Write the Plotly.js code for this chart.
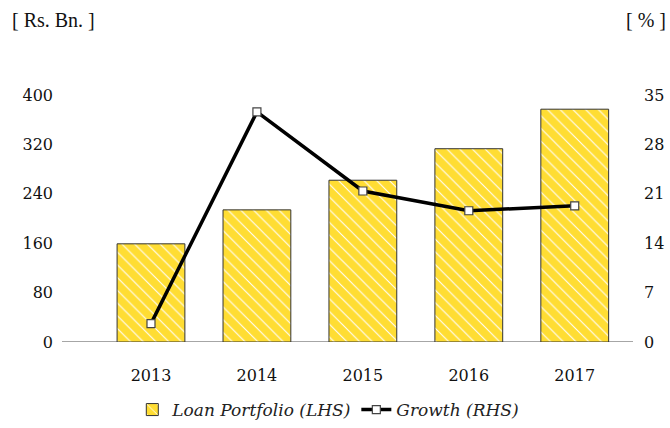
<!DOCTYPE html>
<html>
<head>
<meta charset="utf-8">
<script src="https://cdn.plot.ly/plotly-3.0.1.min.js"></script>
<style>html,body{margin:0;padding:0;background:#fff;}#chart{width:670px;height:428px;}</style>
</head>
<body>
<div id="chart"></div>
<script>
const years = ['2013', '2014', '2015', '2016', '2017'];
const loanPortfolio = [159, 214, 262, 313, 377];
const growth = [2.6, 32.6, 21.4, 18.6, 19.3];
const leftTicks = [0, 80, 160, 240, 320, 400];
const rightTicks = [0, 7, 14, 21, 28, 35];

const tickFont = {family: 'DejaVu Serif', size: 16, color: '#111'};

const traces = [
  {
    type: 'bar', x: years, y: loanPortfolio, name: 'Loan Portfolio (LHS)',
    width: 0.64,
    marker: {
      color: '#FFDD33',
      line: {color: '#333', width: 1},
      pattern: {shape: '\\', fgcolor: '#ffffff', bgcolor: '#FFDD33', size: 9, solidity: 0.12}
    },
    hoverinfo: 'skip'
  },
  {
    type: 'scatter', mode: 'lines+markers', x: years, y: growth, yaxis: 'y2',
    name: 'Growth (RHS)',
    line: {color: '#000', width: 3.5},
    marker: {symbol: 'square', size: 8, color: '#fff', line: {color: '#444', width: 1.2}},
    hoverinfo: 'skip'
  }
];

const layout = {
  width: 670, height: 428,
  margin: {l: 62, r: 37, t: 95, b: 86, autoexpand: false},
  paper_bgcolor: '#fff', plot_bgcolor: '#fff',
  showlegend: true,
  legend: {
    orientation: 'h', xref: 'container', x: 0.49, xanchor: 'center',
    yref: 'container', y: 0.042, yanchor: 'middle',
    font: {family: 'DejaVu Serif', size: 17, color: '#222', style: 'italic'},
    itemwidth: 30, tracegroupgap: 0
  },
  xaxis: {
    type: 'category', range: [-0.84, 4.55], automargin: false,
    showgrid: false, zeroline: false, showline: false,
    ticks: '', tickfont: tickFont, ticklabelstandoff: 22,
    fixedrange: true
  },
  yaxis: {
    range: [0, 400], tickvals: leftTicks, showgrid: false, zeroline: false, automargin: false,
    showline: false, ticks: '', tickfont: tickFont, ticklabelstandoff: 8,
    fixedrange: true
  },
  yaxis2: {
    overlaying: 'y', side: 'right', range: [0, 35], tickvals: rightTicks, automargin: false,
    showgrid: false, zeroline: false, showline: false, ticks: '',
    tickfont: tickFont, ticklabelstandoff: 10, fixedrange: true
  },
  shapes: [
    {type: 'line', xref: 'paper', x0: 0, x1: 1, yref: 'y', y0: 0, y1: 0,
     layer: 'below', line: {color: '#888', width: 1.5}}
  ],
  annotations: [
    {text: '[ Rs. Bn. ]', xref: 'paper', yref: 'paper', x: 0, xanchor: 'left', xshift: -52,
     y: 1, yshift: 75, yanchor: 'middle', showarrow: false,
     font: {family: 'Liberation Serif', size: 20, color: '#111'}},
    {text: '[ % ]', xref: 'paper', yref: 'paper', x: 1, xanchor: 'right', xshift: 35,
     y: 1, yshift: 75, yanchor: 'middle', showarrow: false,
     font: {family: 'Liberation Serif', size: 20, color: '#111'}}
  ]
};

Plotly.newPlot('chart', traces, layout, {displayModeBar: false, staticPlot: true});
</script>
</body>
</html>
